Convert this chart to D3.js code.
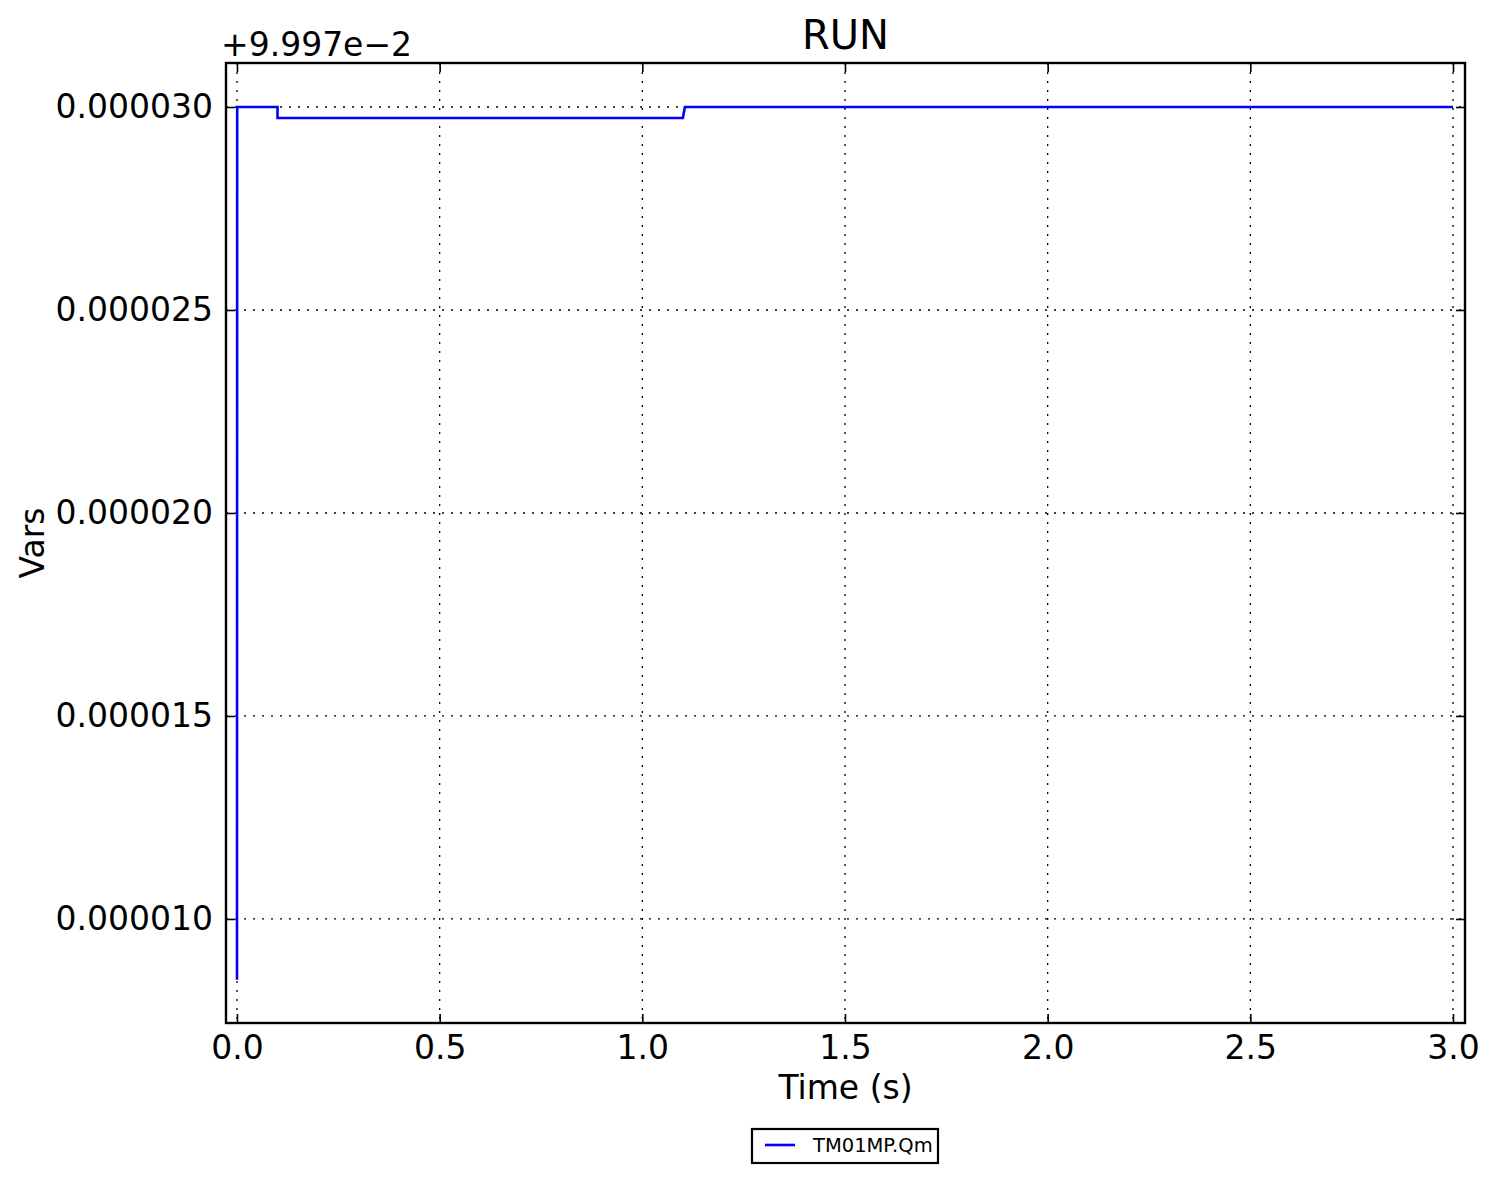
<!DOCTYPE html>
<html>
<head>
<meta charset="utf-8">
<script src="https://cdn.jsdelivr.net/npm/d3@7"></script>
<style>
  html, body { margin: 0; padding: 0; background: #fff; }
  svg { display: block; font-family: "DejaVu Sans", sans-serif; }
</style>
</head>
<body>
<svg id="chart" width="1497" height="1182"></svg>
<script>
// ---- data ----
const title = "RUN";
const xLabel = "Time (s)";
const yLabel = "Vars";
const seriesName = "TM01MP.Qm";
const yOffset = 0.09997;
const offsetText = "+9.997e\u22122";
const timeValues = [0, 0.0005, 0.1, 0.1, 1.1, 1.105, 3.0];
const qmValues = [0.0999785, 0.1, 0.1, 0.09999973, 0.09999973, 0.1, 0.1];
const xTicks = [0, 0.5, 1.0, 1.5, 2.0, 2.5, 3.0];
const xTickLabels = ["0.0", "0.5", "1.0", "1.5", "2.0", "2.5", "3.0"];
const yTicks = [0.000010, 0.000015, 0.000020, 0.000025, 0.000030];
const yTickLabels = ["0.000010", "0.000015", "0.000020", "0.000025", "0.000030"];

// ---- layout ----
const svg = d3.select("#chart");
const L = 226, R = 1465, T = 63, B = 1023;

const x = d3.scaleLinear().domain([-0.0271, 3.0296]).range([L, R]);
const y = d3.scaleLinear().domain([0.0000074375, 0.0000310837]).range([B, T]);

// grid
const grid = svg.append("g");
xTicks.forEach(t => {
  grid.append("line").attr("x1", x(t)).attr("x2", x(t)).attr("y1", T).attr("y2", B)
    .attr("stroke", "#000").attr("stroke-width", 1.3).attr("stroke-dasharray", "2,7");
});
yTicks.forEach(t => {
  grid.append("line").attr("x1", L).attr("x2", R).attr("y1", y(t)).attr("y2", y(t))
    .attr("stroke", "#000").attr("stroke-width", 1.3).attr("stroke-dasharray", "2,7");
});

// series
const pts = timeValues.map((t, i) => [t, qmValues[i] - yOffset]);
const line = d3.line().x(d => x(d[0])).y(d => y(d[1]));
svg.append("path").datum(pts).attr("d", line)
  .attr("fill", "none").attr("stroke", "#0000ff").attr("stroke-width", 2.6)
  .attr("stroke-linejoin", "miter");

// axes (ticks inward, classic style)
const tickLen = 9;
const axB = svg.append("g").attr("transform", `translate(0,${B})`)
  .call(d3.axisBottom(x).tickValues(xTicks).tickFormat((d, i) => xTickLabels[i]).tickSize(-tickLen).tickPadding(13));
const axT = svg.append("g").attr("transform", `translate(0,${T})`)
  .call(d3.axisTop(x).tickValues(xTicks).tickFormat("").tickSize(-tickLen));
const axL = svg.append("g").attr("transform", `translate(${L},0)`)
  .call(d3.axisLeft(y).tickValues(yTicks).tickFormat((d, i) => yTickLabels[i]).tickSize(-tickLen).tickPadding(13));
const axR = svg.append("g").attr("transform", `translate(${R},0)`)
  .call(d3.axisRight(y).tickValues(yTicks).tickFormat("").tickSize(-tickLen));
[axB, axT, axL, axR].forEach(a => {
  a.select(".domain").remove();
  a.selectAll(".tick line").attr("stroke", "#000").attr("stroke-width", 1.6);
  a.selectAll(".tick text").attr("fill", "#000").style("font-size", "33px")
    .style("font-family", "'DejaVu Sans', sans-serif");
});
axB.selectAll(".tick text").attr("dy", "0.71em");

// frame
svg.append("rect").attr("x", L).attr("y", T).attr("width", R - L).attr("height", B - T)
  .attr("fill", "none").attr("stroke", "#000").attr("stroke-width", 2.4);

// texts
svg.append("text").attr("x", (L + R) / 2).attr("y", 49).attr("text-anchor", "middle")
  .style("font-size", "40px").text(title);
svg.append("text").attr("x", 221).attr("y", 56).attr("text-anchor", "start")
  .style("font-size", "33px").text(offsetText);
svg.append("text").attr("x", (L + R) / 2).attr("y", 1099).attr("text-anchor", "middle")
  .style("font-size", "33px").text(xLabel);
svg.append("text").attr("transform", `translate(44,${(T + B) / 2}) rotate(-90)`)
  .attr("text-anchor", "middle").style("font-size", "33px").text(yLabel);

// legend
const lg = svg.append("g");
lg.append("rect").attr("x", 752).attr("y", 1129).attr("width", 186).attr("height", 34)
  .attr("fill", "#fff").attr("stroke", "#000").attr("stroke-width", 2.2);
lg.append("line").attr("x1", 765).attr("x2", 795).attr("y1", 1145).attr("y2", 1145)
  .attr("stroke", "#0000ff").attr("stroke-width", 2.6);
lg.append("text").attr("x", 813).attr("y", 1152).style("font-size", "19.5px").text(seriesName);
</script>
</body>
</html>
